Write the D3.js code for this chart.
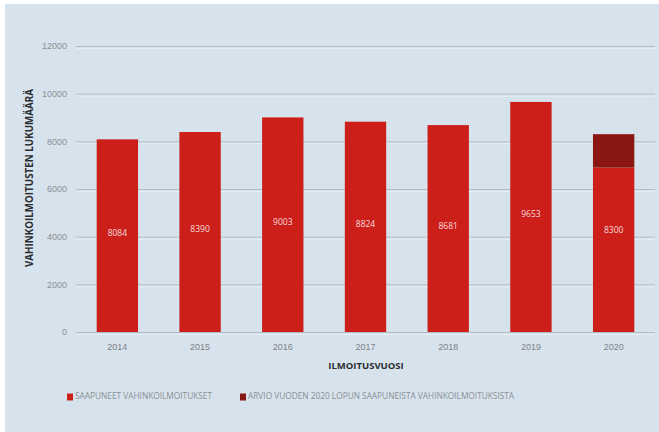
<!DOCTYPE html>
<html>
<head>
<meta charset="utf-8">
<script src="https://cdn.jsdelivr.net/npm/d3@7"></script>
<style>
  body { margin: 0; background: #fff; }
  svg { display: block; font-family: "Open Sans", "Liberation Sans", sans-serif; }
</style>
</head>
<body>
<div id="chart"></div>
<script>
const years = ["2014", "2015", "2016", "2017", "2018", "2019", "2020"];
const received = [8084, 8390, 9003, 8824, 8681, 9653, 6900];
const estimate = [0, 0, 0, 0, 0, 0, 1400];
const barLabels = ["8084", "8390", "9003", "8824", "8681", "9653", "8300"];
const yTicks = [0, 2000, 4000, 6000, 8000, 10000, 12000];
const legendLabels = ["SAAPUNEET VAHINKOILMOITUKSET", "ARVIO VUODEN 2020 LOPUN SAAPUNEISTA VAHINKOILMOITUKSISTA"];

const width = 659, height = 432;
const red = "#cc1f1a", darkRed = "#8a1712", bg = "#d7e3ec";

const svg = d3.select("#chart").append("svg")
    .attr("width", width)
    .attr("height", height);

svg.append("rect")
    .attr("x", 5).attr("y", 4)
    .attr("width", width - 5).attr("height", height - 4)
    .attr("fill", bg);

const x = d3.scaleBand().domain(years).range([76, 655]).paddingInner(0.5).paddingOuter(0.25);
const y = d3.scaleLinear().domain([0, 12000]).range([332, 46]);

// gridlines: grey line with a pale line under it
const grid = svg.append("g");
grid.selectAll(".g1").data(yTicks).enter().append("line")
    .attr("x1", 76).attr("x2", 655)
    .attr("y1", d => y(d) + 2.5).attr("y2", d => y(d) + 2.5)
    .attr("stroke", "#e6edf2").attr("stroke-width", 1);
grid.selectAll(".g2").data(yTicks).enter().append("line")
    .attr("x1", 76).attr("x2", 655)
    .attr("y1", d => y(d) + 0.5).attr("y2", d => y(d) + 0.5)
    .attr("stroke", "#b4bcc4").attr("stroke-width", 1);

const yAxis = svg.append("g")
    .attr("transform", "translate(67,0)")
    .call(d3.axisLeft(y).tickValues(yTicks).tickSize(0).tickPadding(0).tickFormat(d3.format("d")));
yAxis.select(".domain").remove();
yAxis.selectAll("text").attr("fill", "#8a8f95").attr("font-size", 9);

const xAxis = svg.append("g")
    .attr("transform", "translate(0,340)")
    .call(d3.axisBottom(x).tickSize(0).tickPadding(4));
xAxis.select(".domain").remove();
xAxis.selectAll("text").attr("fill", "#7d8288").attr("font-size", 9);

// bars
svg.selectAll(".bar").data(years).enter().append("rect")
    .attr("x", d => x(d))
    .attr("width", x.bandwidth())
    .attr("y", (d, i) => y(received[i]))
    .attr("height", (d, i) => y(0) - y(received[i]))
    .attr("fill", red);

svg.selectAll(".est").data(years.filter((d, i) => estimate[i] > 0)).enter().append("rect")
    .attr("x", d => x(d))
    .attr("width", x.bandwidth())
    .attr("y", d => { const i = years.indexOf(d); return y(received[i] + estimate[i]); })
    .attr("height", d => { const i = years.indexOf(d); return y(received[i]) - y(received[i] + estimate[i]); })
    .attr("fill", darkRed);

svg.selectAll(".lbl").data(years).enter().append("text")
    .attr("x", d => x(d) + x.bandwidth() / 2)
    .attr("y", (d, i) => (y(0) + y(received[i] + estimate[i])) / 2 - 2)
    .attr("text-anchor", "middle")
    .attr("dominant-baseline", "middle")
    .attr("fill", "#f6dcdc")
    .attr("font-size", 8.5)
    .text((d, i) => barLabels[i]);

// axis titles
svg.append("text")
    .attr("transform", "translate(33,178) rotate(-90)")
    .attr("text-anchor", "middle")
    .attr("font-size", 9.8).attr("font-weight", "bold")
    .attr("fill", "#2a2d31")
    .text("VAHINKOILMOITUSTEN LUKUMÄÄRÄ");

svg.append("text")
    .attr("x", 366).attr("y", 369)
    .attr("text-anchor", "middle")
    .attr("font-size", 9.5).attr("font-weight", "bold")
    .attr("fill", "#2a2d31")
    .text("ILMOITUSVUOSI");

// legend
const legendX = [67, 240];
const legendColors = [red, darkRed];
const legend = svg.selectAll(".leg").data(legendLabels).enter().append("g")
    .attr("transform", (d, i) => `translate(${legendX[i]},397)`);
legend.append("rect")
    .attr("x", 0).attr("y", -3.5).attr("width", 6).attr("height", 7)
    .attr("fill", (d, i) => legendColors[i]);
legend.append("text")
    .attr("x", 8).attr("y", 0)
    .attr("dominant-baseline", "middle")
    .attr("font-size", 8.3)
    .attr("fill", "#8a8f95")
    .text(d => d);
</script>
</body>
</html>
